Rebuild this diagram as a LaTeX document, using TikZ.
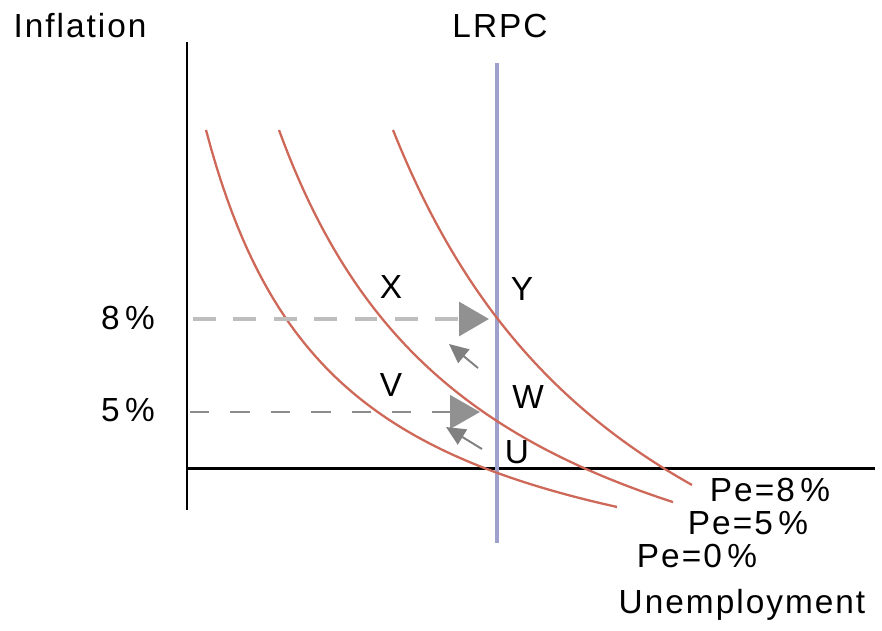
\documentclass[tikz,border=0pt]{standalone}
\usepackage{fontspec}
\setmainfont{Liberation Sans}
\newfontfamily\lblfont[LetterSpace=6]{Liberation Sans}
\usepackage{xcolor}
\usepackage{tikz}
\usetikzlibrary{arrows.meta, positioning}

\definecolor{pcred}{RGB}{206,104,88}
\definecolor{lrpcblue}{RGB}{160,160,204}
\definecolor{guidegray}{RGB}{190,190,190}
\definecolor{guidedark}{RGB}{140,140,140}
\definecolor{headgray}{RGB}{145,145,145}

\begin{document}
\begin{tikzpicture}[
    x=0.02cm, y=-0.02cm,
    lbl/.style={font=\lblfont\fontsize{19}{22}\selectfont, inner sep=0pt},
    axis/.style={line width=1.7pt},
    curve/.style={pcred, line width=1.3pt, samples=80},
    lrpc/.style={lrpcblue, line width=2.8pt},
    guide/.style={dashed, dash pattern=on 13pt off 10pt, line width=2.6pt, guidegray,
        -{Triangle[length=17pt, width=19pt, color=headgray]}},
    guidelow/.style={guide, guidedark, line width=1.6pt, dash pattern=on 11pt off 12pt},
    moveback/.style={gray, line width=1.1pt, -{Triangle[length=11pt, width=10pt]}},
]
\useasboundingbox (0,0) rectangle (882,630);

% Axes
\coordinate (origin) at (187,468);
\coordinate (ytop) at (187,42);
\coordinate (ybot) at (187,510);
\coordinate (xend) at (875,468);
\draw[axis] (ytop) -- (ybot);
\draw[axis] (origin) -- (xend);

% Long run Phillips curve
\coordinate (lrpctop) at (497,63);
\coordinate (lrpcbot) at (497,543);
\draw[lrpc] (lrpctop) -- (lrpcbot);

% Short run Phillips curves (hyperbolas)
\draw[curve, domain=206:617] plot (\x, {627 - 650.64/((\x-75.1)/100)});
\draw[curve, domain=279:673] plot (\x, {697.8 - 1176.98/((\x-71.7)/100)});
\draw[curve, domain=393:692] plot (\x, {804.6 - 1816.1/((\x-123.8)/100)});

% Expected inflation guides
\coordinate (g8start) at (193,319);
\coordinate (g8tip) at (489,319);
\coordinate (g5start) at (190,412);
\coordinate (g5tip) at (480,412);
\draw[guide] (g8start) -- (g8tip);
\draw[guidelow] (g5start) -- (g5tip);

% Movements back to the LRPC
\coordinate (m1from) at (478,368);
\coordinate (m1to) at (449,344);
\coordinate (m2from) at (482,449);
\coordinate (m2to) at (446,427);
\draw[moveback] (m1from) -- (m1to);
\draw[moveback] (m2from) -- (m2to);

% Labels
\node[lbl] (inflation) at (80,26) {Inflation};
\node[lbl] (lrpclabel) at (500,26) {LRPC};
\node[lbl] (eight) at (128,318) {8\,\%};
\node[lbl] (five) at (128,410) {5\,\%};
\node[lbl] (ptx) at (391,287) {X};
\node[lbl] (pty) at (522,289) {Y};
\node[lbl] (ptv) at (391,385) {V};
\node[lbl] (ptw) at (528,397) {W};
\node[lbl] (ptu) at (517,452) {U};
\node[lbl] (pe8) at (770,490) {Pe=8\,\%};
\node[lbl] (pe5) at (748,523) {Pe=5\,\%};
\node[lbl] (pe0) at (697,556) {Pe=0\,\%};
\node[lbl] (unemp) at (742,605) {Unemployment};

\end{tikzpicture}
\end{document}
